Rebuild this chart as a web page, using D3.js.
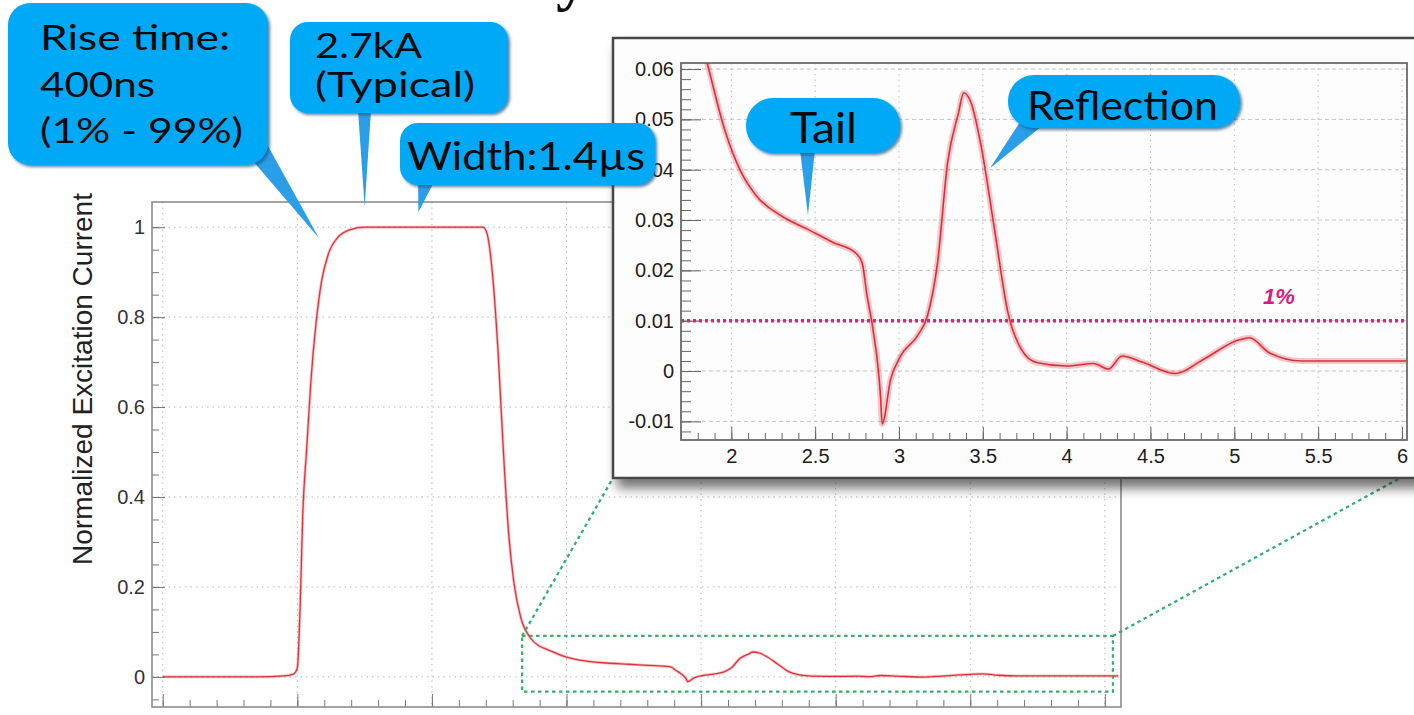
<!DOCTYPE html>
<html>
<head>
<meta charset="utf-8">
<script src="https://cdn.jsdelivr.net/npm/d3@7"></script>
<style>
body{margin:0;background:#fff;}
svg{display:block;}
</style>
</head>
<body>
<div id="chart"></div>
<script>
var W = 1414, H = 715;

// normalized excitation current vs time (us)
var timeUs = [-1.0, -0.6, -0.3, -0.1, -0.03, 0.0, 0.02, 0.04, 0.07, 0.10, 0.14, 0.18, 0.23, 0.30, 0.40, 0.50,
	1.0, 1.38, 1.41, 1.45, 1.49, 1.53, 1.57, 1.61, 1.66, 1.73, 1.80,
	1.855, 1.96, 2.06, 2.15, 2.30, 2.46, 2.61, 2.74, 2.78, 2.81, 2.845, 2.89, 2.90, 2.95, 3.01, 3.11, 3.17,
	3.23, 3.29, 3.355, 3.386, 3.43, 3.49, 3.57, 3.65, 3.73, 3.82, 4.0, 4.16, 4.25, 4.33, 4.45, 4.65, 4.81,
	5.03, 5.09, 5.21, 5.40, 5.71, 6.0, 6.1];
var current = [0.000, 0.000, 0.000, 0.002, 0.006, 0.020, 0.150, 0.360, 0.510, 0.655, 0.790, 0.880, 0.940, 0.977, 0.995, 1.000,
	1.000, 1.000, 0.985, 0.895, 0.730, 0.506, 0.319, 0.207, 0.132, 0.087, 0.068,
	0.0613, 0.048, 0.0394, 0.0348, 0.0308, 0.0281, 0.0255, 0.0235, 0.0215, 0.0149, 0.0083, -0.005, -0.0105, -0.0017, 0.003, 0.007, 0.011,
	0.0215, 0.0414, 0.0513, 0.0553, 0.0533, 0.0447, 0.0281, 0.0116, 0.0043, 0.0017, 0.001, 0.0015, 0.0004, 0.0030, 0.0018, -0.0005, 0.0022,
	0.0062, 0.0066, 0.0036, 0.002, 0.002, 0.002, 0.002];

var mainXTicks = [-1, 0, 1, 2, 3, 4, 5, 6];
var mainYTicks = [0, 0.2, 0.4, 0.6, 0.8, 1];
var insetXTicks = [2, 2.5, 3, 3.5, 4, 4.5, 5, 5.5, 6];
var insetYTicks = [-0.01, 0, 0.01, 0.02, 0.03, 0.04, 0.05, 0.06];
var onePercent = 0.01;
var zoomT = [1.67, 6.06];
var zoomV = [-0.033, 0.091];

var pulse = timeUs.map(function(t, i) { return {t: t, v: current[i]}; });
var fmt = function(d) { return d3.format("~g")(d).replace("\u2212", "-"); };

var svg = d3.select("#chart").append("svg")
	.attr("width", W).attr("height", H)
	.style("font-family", "'Liberation Sans', Arial, sans-serif");

var defs = svg.append("defs");
defs.append("filter").attr("id", "panelShadow").attr("x", "-10%").attr("y", "-10%").attr("width", "130%").attr("height", "130%")
	.append("feDropShadow").attr("dx", 5).attr("dy", 9).attr("stdDeviation", 6)
	.attr("flood-color", "#000").attr("flood-opacity", 0.55);
defs.append("filter").attr("id", "boxShadow").attr("x", "-10%").attr("y", "-10%").attr("width", "130%").attr("height", "130%")
	.append("feDropShadow").attr("dx", 2).attr("dy", 2).attr("stdDeviation", 1.5)
	.attr("flood-color", "#0b4f7d").attr("flood-opacity", 0.7);

// slide title fragment at the top edge
svg.append("text").attr("x", 556).attr("y", -2)
	.style("font-family", "'Liberation Serif', serif").style("font-size", "64px").style("font-weight", "bold").style("fill", "#111")
	.text("y");

// ---------- main chart ----------
var x = d3.scaleLinear().domain([-1.08, 6.12]).range([152, 1121]);
var y = d3.scaleLinear().domain([-0.067, 1.056]).range([707, 202]);
var main = svg.append("g");

main.append("g").selectAll("line").data(mainXTicks).enter().append("line")
	.attr("x1", function(d) { return x(d); }).attr("x2", function(d) { return x(d); })
	.attr("y1", 202).attr("y2", 707)
	.style("stroke", "#b8b8b8").style("stroke-dasharray", "1.5,4");
main.append("g").selectAll("line").data(mainYTicks).enter().append("line")
	.attr("y1", function(d) { return y(d); }).attr("y2", function(d) { return y(d); })
	.attr("x1", 152).attr("x2", 1121)
	.style("stroke", "#b8b8b8").style("stroke-dasharray", "1.5,4");

var yAx = main.append("g").attr("transform", "translate(152,0)")
	.call(d3.axisLeft(y).tickValues(mainYTicks).tickSize(-13).tickPadding(7).tickFormat(fmt));
var yMinor = main.append("g").attr("transform", "translate(152,0)")
	.call(d3.axisLeft(y).tickValues(d3.range(-1, 21).map(function(i) { return i * 0.05; })).tickSize(-7).tickFormat(""));
var xAx = main.append("g").attr("transform", "translate(0,707)")
	.call(d3.axisBottom(x).tickValues(mainXTicks).tickSize(-13).tickFormat(""));
var xMinor = main.append("g").attr("transform", "translate(0,707)")
	.call(d3.axisBottom(x).tickValues(d3.range(-5, 31).map(function(i) { return i * 0.2; })).tickSize(-7).tickFormat(""));
[yAx, yMinor, xAx, xMinor].forEach(function(g) {
	g.select(".domain").remove();
	g.selectAll(".tick line").style("stroke", "#777");
});
yAx.selectAll("text").style("font-size", "20px").style("fill", "#333");

var line = d3.line().x(function(d) { return x(d.t); }).y(function(d) { return y(d.v); }).curve(d3.curveMonotoneX);
main.append("path").datum(pulse).attr("d", line)
	.style("fill", "none").style("stroke", "#e23a44").style("stroke-width", 3).style("opacity", 0.3);
main.append("path").datum(pulse).attr("d", line)
	.style("fill", "none").style("stroke", "#e0323c").style("stroke-width", 1.3);

main.append("rect").attr("x", 152).attr("y", 202).attr("width", 1121 - 152).attr("height", 707 - 202)
	.style("fill", "none").style("stroke", "#8c8c8c").style("stroke-width", 1.6);

main.append("text")
	.attr("transform", "translate(82,379) rotate(-90)")
	.attr("text-anchor", "middle").attr("dy", "0.35em")
	.style("font-size", "28px").style("fill", "#222")
	.text("Normalized Excitation Current");

// zoom region + connectors
var green = svg.append("g").style("fill", "none").style("stroke", "#35b06c")
	.style("stroke-width", 2.3).style("stroke-dasharray", "3.5,3.5");
green.append("rect").attr("x", x(zoomT[0])).attr("y", y(zoomV[1]))
	.attr("width", x(zoomT[1]) - x(zoomT[0])).attr("height", y(zoomV[0]) - y(zoomV[1]));
green.append("line").attr("x1", x(zoomT[0])).attr("y1", y(zoomV[1])).attr("x2", 613).attr("y2", 478);
green.append("line").attr("x1", x(zoomT[1])).attr("y1", y(zoomV[1])).attr("x2", 1440).attr("y2", 456);

// ---------- inset ----------
var xi = d3.scaleLinear().domain([1.70, 6.03]).range([681, 1407]);
var yi = d3.scaleLinear().domain([-0.0137, 0.0612]).range([440, 63]);
var inset = svg.append("g");

inset.append("rect").attr("x", 613).attr("y", 38).attr("width", 840).attr("height", 440)
	.style("fill", "#fdfdfd").style("stroke", "#474747").style("stroke-width", 2.5)
	.attr("filter", "url(#panelShadow)");

defs.append("clipPath").attr("id", "insetClip").append("rect")
	.attr("x", 681).attr("y", 63).attr("width", 1407 - 681).attr("height", 440 - 63);

inset.append("g").selectAll("line").data(insetXTicks).enter().append("line")
	.attr("x1", function(d) { return xi(d); }).attr("x2", function(d) { return xi(d); })
	.attr("y1", 63).attr("y2", 440)
	.style("stroke", "#bdbdbd").style("stroke-dasharray", "1.5,4");
inset.append("g").selectAll("line").data(insetYTicks).enter().append("line")
	.attr("y1", function(d) { return yi(d); }).attr("y2", function(d) { return yi(d); })
	.attr("x1", 681).attr("x2", 1407)
	.style("stroke", "#c4c4c4").style("stroke-dasharray", "4,3");

inset.append("line").attr("x1", 681).attr("x2", 1407)
	.attr("y1", yi(onePercent)).attr("y2", yi(onePercent))
	.style("stroke", "#df1f8a").style("stroke-width", 3.5).style("stroke-dasharray", "3,3");
inset.append("text").attr("x", 1279).attr("y", yi(onePercent) - 17).attr("text-anchor", "middle")
	.style("font-size", "22px").style("font-weight", "bold").style("font-style", "italic").style("fill", "#d81b80")
	.text("1%");

var linei = d3.line().x(function(d) { return xi(d.t); }).y(function(d) { return yi(d.v); }).curve(d3.curveMonotoneX);
var trace = inset.append("g").attr("clip-path", "url(#insetClip)");
trace.append("path").datum(pulse).attr("d", linei)
	.style("fill", "none").style("stroke", "#e03a44").style("stroke-width", 6).style("opacity", 0.28);
trace.append("path").datum(pulse).attr("d", linei)
	.style("fill", "none").style("stroke", "#da2f3a").style("stroke-width", 1.6);

var yiAx = inset.append("g").attr("transform", "translate(681,0)")
	.call(d3.axisLeft(yi).tickValues(insetYTicks).tickSize(-20).tickPadding(7).tickFormat(fmt));
var yiMinor = inset.append("g").attr("transform", "translate(681,0)")
	.call(d3.axisLeft(yi).tickValues(d3.range(-6, 31).map(function(i) { return i * 0.002; })).tickSize(-10).tickFormat(""));
var xiAx = inset.append("g").attr("transform", "translate(0,440)")
	.call(d3.axisBottom(xi).tickValues(insetXTicks).tickSize(-13).tickPadding(9).tickFormat(fmt));
var xiMinor = inset.append("g").attr("transform", "translate(0,440)")
	.call(d3.axisBottom(xi).tickValues(d3.range(17, 61).map(function(i) { return i / 10; })).tickSize(-7).tickFormat(""));
[yiAx, yiMinor, xiAx, xiMinor].forEach(function(g) {
	g.select(".domain").remove();
	g.selectAll(".tick line").style("stroke", "#666");
});
inset.selectAll(".tick text").style("font-size", "20px").style("fill", "#1c1c1c");

inset.append("rect").attr("x", 681).attr("y", 63).attr("width", 1407 - 681).attr("height", 440 - 63)
	.style("fill", "none").style("stroke", "#6a6a6a").style("stroke-width", 1.8);

// ---------- callouts ----------
var callouts = [
	{box: [8, 3, 260, 162], r: 22, fs: 35, lines: ["Rise time:", "400ns", "(1% - 99%)"], tx: 40, ty: [50, 97, 143], lens: [190, 115, 203],
		base: [[252, 160], [268, 146]], tip: [x(0.16), y(0.976)]},
	{box: [290, 22, 218, 91], r: 18, fs: 34, lines: ["2.7kA", "(Typical)"], tx: 315, ty: [58, 97], lens: [107, 160],
		base: [[358, 110], [371, 110]], tip: [x(0.50), y(1.045)]},
	{box: [400, 123, 255, 62], r: 18, fs: 38, lines: ["Width:1.4\u00b5s"], tx: 407, ty: [170], lens: [238],
		base: [[418, 182], [434, 182]], tip: [x(0.90), y(1.034)]},
	{box: [746, 98, 154, 55], r: 27, fs: 42, lines: ["Tail"], tx: 790, ty: [143], lens: [67],
		base: [[800, 150], [815, 150]], tip: [xi(2.457), yi(0.031)]},
	{box: [1008, 75, 232, 53], r: 26, fs: 41, lines: ["Reflection"], tx: 1027, ty: [120], lens: [191],
		base: [[1020, 122], [1042, 126]], tip: [xi(3.543), yi(0.0403)]}
];

var co = svg.append("g").style("font-family", "Lato, 'Open Sans', sans-serif");
callouts.forEach(function(c) {
	co.append("path")
		.attr("d", "M" + c.base[0] + "L" + c.tip + "L" + c.base[1] + "Z")
		.style("fill", "#2a9ee6");
	co.append("rect").attr("x", c.box[0]).attr("y", c.box[1]).attr("width", c.box[2]).attr("height", c.box[3])
		.attr("rx", c.r).attr("ry", c.r)
		.style("fill", "#01a9f6").attr("filter", "url(#boxShadow)");
	c.lines.forEach(function(s, i) {
		co.append("text").attr("x", c.tx).attr("y", c.ty[i])
			.attr("textLength", c.lens[i]).attr("lengthAdjust", "spacingAndGlyphs")
			.style("font-size", c.fs + "px").style("fill", "#0a0a0a")
			.text(s);
	});
});
</script>
</body>
</html>
